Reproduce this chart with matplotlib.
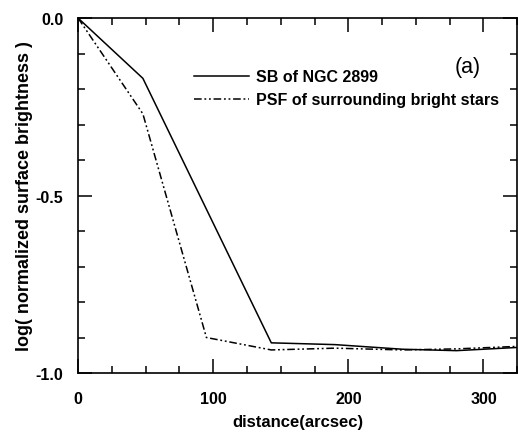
import matplotlib.pyplot as plt
from matplotlib.ticker import MultipleLocator

plt.rcParams['font.family'] = ['Liberation Sans', 'DejaVu Sans']
plt.rcParams['axes.unicode_minus'] = False

# surface brightness profile of NGC 2899
sb_dist = [0, 48, 143, 190, 240, 280, 325]
sb_logbright = [0.0, -0.17, -0.915, -0.92, -0.933, -0.937, -0.928]

# PSF of surrounding bright stars
psf_dist = [0, 48, 95, 143, 190, 240, 280, 325]
psf_logbright = [0.0, -0.27, -0.90, -0.935, -0.93, -0.935, -0.932, -0.925]

fig = plt.figure(figsize=(5.18, 4.35), dpi=100)
ax = fig.add_axes([0.1506, 0.1402, 0.848, 0.8161])

ax.plot(sb_dist, sb_logbright, color='black', lw=1.1, label='SB of NGC 2899')
ax.plot(psf_dist, psf_logbright, color='black', lw=1.1,
        dashes=(5, 1.8, 1.2, 1.8, 1.2, 1.8), label='PSF of surrounding bright stars')

ax.set_xlim(0, 325)
ax.set_ylim(-1.0, 0.0)
ax.xaxis.set_major_locator(MultipleLocator(100))
ax.xaxis.set_minor_locator(MultipleLocator(25))
ax.yaxis.set_major_locator(MultipleLocator(0.5))
ax.yaxis.set_minor_locator(MultipleLocator(0.1))
ax.tick_params(which='both', direction='in', top=True, right=True, width=1.1)
ax.tick_params(which='major', length=10, labelsize=11.5)
ax.tick_params(axis='x', which='major', pad=13)
ax.tick_params(axis='y', which='major', pad=10.5)
ax.tick_params(which='minor', length=5)
for lab in ax.get_xticklabels() + ax.get_yticklabels():
    lab.set_fontweight('bold')
for sp in ax.spines.values():
    sp.set_linewidth(1.2)

ax.set_xlabel('distance(arcsec)', fontsize=12, fontweight='bold', labelpad=6)
ax.set_ylabel('log( normalized surface brightness )', fontsize=13, fontweight='bold', labelpad=2)

ax.text(0.888, 0.862, '(a)', transform=ax.transAxes, fontsize=15.5, ha='center', va='center')

leg = ax.legend(loc='upper left', bbox_to_anchor=(0.265, 0.855), frameon=False,
                borderpad=0, borderaxespad=0, handlelength=3.4, handletextpad=0.45,
                labelspacing=0.5, prop={'size': 11.5, 'weight': 'bold'})

fig.savefig('out.png', dpi=100)
